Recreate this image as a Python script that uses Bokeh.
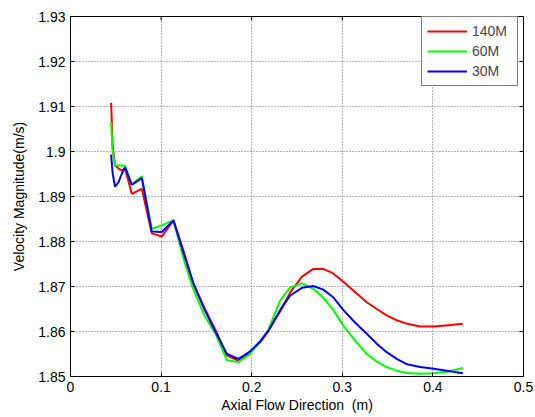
import math
from bokeh.plotting import figure
from bokeh.models import (FixedTicker, CustomJSTickFormatter, Legend,
                          LegendItem, Range1d)
from bokeh.embed import file_html
from bokeh.resources import INLINE

# ---- data ----
x_pos = [0.0448, 0.0466, 0.0492, 0.053, 0.0565, 0.0602, 0.0676, 0.0787, 0.0897,
         0.1008, 0.1136, 0.1247, 0.1357, 0.148, 0.1608, 0.1726, 0.1854, 0.1983,
         0.2094, 0.2186, 0.2315, 0.2425, 0.2555, 0.268, 0.279, 0.290, 0.3015,
         0.314, 0.327, 0.338, 0.349, 0.360, 0.3715, 0.386, 0.401, 0.417, 0.433]

vel_140M = [1.9108, 1.9010, 1.8969, 1.8962, 1.8958, 1.8962, 1.8906, 1.8917, 1.8818,
            1.8811, 1.8847, 1.8780, 1.8705, 1.8652, 1.8600, 1.8547, 1.8535, 1.8554,
            1.8576, 1.8602, 1.8645, 1.8687, 1.8722, 1.8739, 1.8739, 1.8729, 1.8710,
            1.8688, 1.8665, 1.8650, 1.8636, 1.8625, 1.8617, 1.8611, 1.8611, 1.8614, 1.8617]

vel_60M = [1.9065, 1.8998, 1.8969, 1.8969, 1.8969, 1.8968, 1.8927, 1.8945, 1.8828,
           1.8836, 1.8847, 1.8762, 1.8693, 1.8635, 1.8592, 1.8536, 1.8532, 1.8550,
           1.8578, 1.8605, 1.8669, 1.8698, 1.8707, 1.8695, 1.8675, 1.8648, 1.8612,
           1.8580, 1.8550, 1.8533, 1.8521, 1.8513, 1.8508, 1.8506, 1.8507, 1.8511, 1.8519]

vel_30M = [1.8993, 1.8950, 1.8922, 1.8932, 1.8950, 1.8965, 1.8926, 1.8941, 1.8822,
           1.8821, 1.8847, 1.8775, 1.8707, 1.8648, 1.8596, 1.8550, 1.8539, 1.8556,
           1.8578, 1.8602, 1.8648, 1.8680, 1.8697, 1.8701, 1.8693, 1.8676, 1.8647,
           1.8620, 1.8595, 1.8573, 1.8554, 1.8539, 1.8527, 1.8521, 1.8517, 1.8512, 1.8507]

series_names = ["140M", "60M", "30M"]
series_colors = ["#ff0000", "#00ff00", "#0000ff"]

x_ticks = [0, 0.1, 0.2, 0.3, 0.4, 0.5]
y_ticks = [1.85, 1.86, 1.87, 1.88, 1.89, 1.9, 1.91, 1.92, 1.93]

FONT = "Liberation Sans"
x_min, x_max = x_ticks[0], x_ticks[-1]
y_min, y_max = y_ticks[0], y_ticks[-1]

p = figure(width=535, height=417, output_backend="svg", toolbar_location=None,
           x_range=Range1d(x_min, x_max), y_range=Range1d(y_min, y_max),
           min_border_left=70, min_border_right=12, min_border_top=16,
           min_border_bottom=41, x_axis_label="Axial Flow Direction \u00a0(m)",
           y_axis_label="Velocity Magnitude(m/s)")
p.background_fill_color = "white"
p.border_fill_color = "white"
p.outline_line_color = "black"
p.outline_line_width = 1

fmt = CustomJSTickFormatter(code="return Number(tick.toFixed(2)).toString();")

for ax, ticks in ((p.xaxis[0], x_ticks), (p.yaxis[0], y_ticks)):
    ax.ticker = FixedTicker(ticks=ticks)
    ax.formatter = fmt
    ax.major_tick_in = 4
    ax.major_tick_out = 0
    ax.minor_tick_line_color = None
    ax.axis_line_color = "black"
    ax.major_tick_line_color = "black"
    ax.major_label_text_font = FONT
    ax.major_label_text_font_size = "14px"
    ax.major_label_text_color = "black"
    ax.axis_label_text_font = FONT
    ax.axis_label_text_font_size = "14px"
    ax.axis_label_text_font_style = "normal"
    ax.axis_label_text_color = "black"

p.xaxis[0].major_label_standoff = 5
p.xaxis[0].axis_label_standoff = 2
p.yaxis[0].major_label_standoff = 5
p.yaxis[0].axis_label_standoff = 8

# box ticks on top and right (short inward rays from the tick positions)
p.ray(x=x_ticks, y=[y_max] * len(x_ticks), length=4, length_units="screen",
      angle=-math.pi / 2, line_color="black", line_width=1)
p.ray(x=[x_max] * len(y_ticks), y=y_ticks, length=4, length_units="screen",
      angle=math.pi, line_color="black", line_width=1)

for g in (p.xgrid[0], p.ygrid[0]):
    g.grid_line_color = "#6e6e6e"
    g.grid_line_dash = "1 2"
    g.grid_line_width = 1
p.xgrid[0].ticker = FixedTicker(ticks=x_ticks)
p.ygrid[0].ticker = FixedTicker(ticks=y_ticks)

items = []
for name, col, ys in zip(series_names, series_colors, (vel_140M, vel_60M, vel_30M)):
    r = p.line(x_pos, ys, line_color=col, line_width=2)
    items.append(LegendItem(label=name, renderers=[r]))

legend = Legend(items=items, location=(351, 290), margin=0, padding=5,
                spacing=2, glyph_width=40, glyph_height=18, label_height=18,
                label_width=40, label_standoff=5,
                label_text_font=FONT, label_text_font_size="14px",
                border_line_color="black", border_line_width=1,
                background_fill_color="white", background_fill_alpha=1)
p.add_layout(legend, "center")

open("out.html", "w").write(file_html(p, INLINE))
